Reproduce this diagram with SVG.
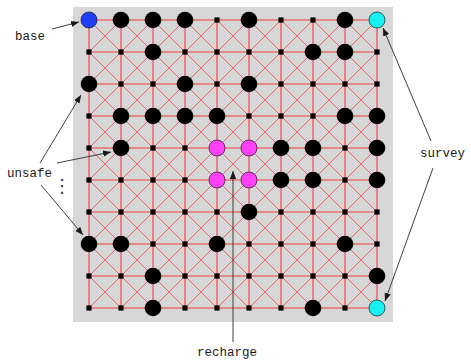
<svg xmlns="http://www.w3.org/2000/svg" xmlns:xlink="http://www.w3.org/1999/xlink" width="471" height="360" viewBox="0 0 471 360">
<style>
.grid{stroke:#f03c3c;stroke-width:1.1;fill:none}
.diag{stroke:#ee4848;stroke-width:0.8;fill:none}
.arr{stroke:#2a2a2a;stroke-width:0.9;fill:none;marker-end:url(#ah)}
.lbl{font-family:"Liberation Mono","Courier New",monospace;font-size:12.5px;fill:#1a1a1a}
.blue{fill:#1f3ff5;stroke:#1a1a40;stroke-width:0.8}
.cyan{fill:#19f0f0;stroke:#1a3a40;stroke-width:0.8}
.mag{fill:#ff40f4;stroke:#401a40;stroke-width:0.8}
</style>
<defs>
<marker id="ah" viewBox="0 0 10 10" refX="10" refY="5" markerWidth="8" markerHeight="8" markerUnits="userSpaceOnUse" orient="auto"><path d="M0,1 L10,5 L0,9 z" fill="#1a1a1a"/></marker>
<rect id="sq" x="-2.6" y="-2.6" width="5.2" height="5.2" fill="#000"/>
<circle id="bg" r="8.3" fill="#000"/>
</defs>
<rect x="73" y="7" width="320" height="315" fill="#d7d7d7"/>
<g id="connectors">
<path class="grid" d="M89,20H377M89,52H377M89,84H377M89,116H377M89,148H377M89,180H377M89,212H377M89,244H377M89,276H377M89,308H377M89,20V308M121,20V308M153,20V308M185,20V308M217,20V308M249,20V308M281,20V308M313,20V308M345,20V308M377,20V308"/>
<path class="diag" d="M89,276L121,308M89,244L153,308M89,212L185,308M89,180L217,308M89,148L249,308M89,116L281,308M89,84L313,308M89,52L345,308M89,20L377,308M121,20L377,276M153,20L377,244M185,20L377,212M217,20L377,180M249,20L377,148M281,20L377,116M313,20L377,84M345,20L377,52"/>
<path class="diag" d="M89,52L121,20M89,84L153,20M89,116L185,20M89,148L217,20M89,180L249,20M89,212L281,20M89,244L313,20M89,276L345,20M89,308L377,20M121,308L377,52M153,308L377,84M185,308L377,116M217,308L377,148M249,308L377,180M281,308L377,212M313,308L377,244M345,308L377,276"/>
</g>
<g id="nodes">
<g id="n0_0"><circle class="blue" cx="89" cy="20" r="8"/></g>
<g id="n0_1"><use href="#bg" x="121" y="20"/></g>
<g id="n0_2"><use href="#bg" x="153" y="20"/></g>
<g id="n0_3"><use href="#bg" x="185" y="20"/></g>
<g id="n0_4"><use href="#sq" x="217" y="20"/></g>
<g id="n0_5"><use href="#bg" x="249" y="20"/></g>
<g id="n0_6"><use href="#sq" x="281" y="20"/></g>
<g id="n0_7"><use href="#sq" x="313" y="20"/></g>
<g id="n0_8"><use href="#bg" x="345" y="20"/></g>
<g id="n0_9"><circle class="cyan" cx="377" cy="20" r="8"/></g>

<g id="n1_0"><use href="#sq" x="89" y="52"/></g>
<g id="n1_1"><use href="#sq" x="121" y="52"/></g>
<g id="n1_2"><use href="#bg" x="153" y="52"/></g>
<g id="n1_3"><use href="#sq" x="185" y="52"/></g>
<g id="n1_4"><use href="#sq" x="217" y="52"/></g>
<g id="n1_5"><use href="#sq" x="249" y="52"/></g>
<g id="n1_6"><use href="#sq" x="281" y="52"/></g>
<g id="n1_7"><use href="#bg" x="313" y="52"/></g>
<g id="n1_8"><use href="#bg" x="345" y="52"/></g>
<g id="n1_9"><use href="#sq" x="377" y="52"/></g>

<g id="n2_0"><use href="#bg" x="89" y="84"/></g>
<g id="n2_1"><use href="#sq" x="121" y="84"/></g>
<g id="n2_2"><use href="#sq" x="153" y="84"/></g>
<g id="n2_3"><use href="#bg" x="185" y="84"/></g>
<g id="n2_4"><use href="#sq" x="217" y="84"/></g>
<g id="n2_5"><use href="#bg" x="249" y="84"/></g>
<g id="n2_6"><use href="#sq" x="281" y="84"/></g>
<g id="n2_7"><use href="#sq" x="313" y="84"/></g>
<g id="n2_8"><use href="#sq" x="345" y="84"/></g>
<g id="n2_9"><use href="#sq" x="377" y="84"/></g>

<g id="n3_0"><use href="#sq" x="89" y="116"/></g>
<g id="n3_1"><use href="#bg" x="121" y="116"/></g>
<g id="n3_2"><use href="#bg" x="153" y="116"/></g>
<g id="n3_3"><use href="#bg" x="185" y="116"/></g>
<g id="n3_4"><use href="#bg" x="217" y="116"/></g>
<g id="n3_5"><use href="#sq" x="249" y="116"/></g>
<g id="n3_6"><use href="#sq" x="281" y="116"/></g>
<g id="n3_7"><use href="#sq" x="313" y="116"/></g>
<g id="n3_8"><use href="#bg" x="345" y="116"/></g>
<g id="n3_9"><use href="#bg" x="377" y="116"/></g>

<g id="n4_0"><use href="#sq" x="89" y="148"/></g>
<g id="n4_1"><use href="#bg" x="121" y="148"/></g>
<g id="n4_2"><use href="#sq" x="153" y="148"/></g>
<g id="n4_3"><use href="#sq" x="185" y="148"/></g>
<g id="n4_4"><circle class="mag" cx="217" cy="148" r="8"/></g>
<g id="n4_5"><circle class="mag" cx="249" cy="148" r="8"/></g>
<g id="n4_6"><use href="#bg" x="281" y="148"/></g>
<g id="n4_7"><use href="#bg" x="313" y="148"/></g>
<g id="n4_8"><use href="#sq" x="345" y="148"/></g>
<g id="n4_9"><use href="#bg" x="377" y="148"/></g>

<g id="n5_0"><use href="#sq" x="89" y="180"/></g>
<g id="n5_1"><use href="#sq" x="121" y="180"/></g>
<g id="n5_2"><use href="#sq" x="153" y="180"/></g>
<g id="n5_3"><use href="#sq" x="185" y="180"/></g>
<g id="n5_4"><circle class="mag" cx="217" cy="180" r="8"/></g>
<g id="n5_5"><circle class="mag" cx="249" cy="180" r="8"/></g>
<g id="n5_6"><use href="#bg" x="281" y="180"/></g>
<g id="n5_7"><use href="#bg" x="313" y="180"/></g>
<g id="n5_8"><use href="#sq" x="345" y="180"/></g>
<g id="n5_9"><use href="#bg" x="377" y="180"/></g>

<g id="n6_0"><use href="#sq" x="89" y="212"/></g>
<g id="n6_1"><use href="#sq" x="121" y="212"/></g>
<g id="n6_2"><use href="#sq" x="153" y="212"/></g>
<g id="n6_3"><use href="#sq" x="185" y="212"/></g>
<g id="n6_4"><use href="#sq" x="217" y="212"/></g>
<g id="n6_5"><use href="#bg" x="249" y="212"/></g>
<g id="n6_6"><use href="#sq" x="281" y="212"/></g>
<g id="n6_7"><use href="#sq" x="313" y="212"/></g>
<g id="n6_8"><use href="#sq" x="345" y="212"/></g>
<g id="n6_9"><use href="#sq" x="377" y="212"/></g>

<g id="n7_0"><use href="#bg" x="89" y="244"/></g>
<g id="n7_1"><use href="#bg" x="121" y="244"/></g>
<g id="n7_2"><use href="#sq" x="153" y="244"/></g>
<g id="n7_3"><use href="#sq" x="185" y="244"/></g>
<g id="n7_4"><use href="#bg" x="217" y="244"/></g>
<g id="n7_5"><use href="#sq" x="249" y="244"/></g>
<g id="n7_6"><use href="#sq" x="281" y="244"/></g>
<g id="n7_7"><use href="#sq" x="313" y="244"/></g>
<g id="n7_8"><use href="#bg" x="345" y="244"/></g>
<g id="n7_9"><use href="#sq" x="377" y="244"/></g>

<g id="n8_0"><use href="#sq" x="89" y="276"/></g>
<g id="n8_1"><use href="#sq" x="121" y="276"/></g>
<g id="n8_2"><use href="#bg" x="153" y="276"/></g>
<g id="n8_3"><use href="#sq" x="185" y="276"/></g>
<g id="n8_4"><use href="#sq" x="217" y="276"/></g>
<g id="n8_5"><use href="#sq" x="249" y="276"/></g>
<g id="n8_6"><use href="#sq" x="281" y="276"/></g>
<g id="n8_7"><use href="#sq" x="313" y="276"/></g>
<g id="n8_8"><use href="#sq" x="345" y="276"/></g>
<g id="n8_9"><use href="#bg" x="377" y="276"/></g>

<g id="n9_0"><use href="#sq" x="89" y="308"/></g>
<g id="n9_1"><use href="#sq" x="121" y="308"/></g>
<g id="n9_2"><use href="#bg" x="153" y="308"/></g>
<g id="n9_3"><use href="#sq" x="185" y="308"/></g>
<g id="n9_4"><use href="#sq" x="217" y="308"/></g>
<g id="n9_5"><use href="#sq" x="249" y="308"/></g>
<g id="n9_6"><use href="#sq" x="281" y="308"/></g>
<g id="n9_7"><use href="#bg" x="313" y="308"/></g>
<g id="n9_8"><use href="#sq" x="345" y="308"/></g>
<g id="n9_9"><circle class="cyan" cx="377" cy="308" r="8"/></g>
</g>
<g id="annotations">
<path class="arr" d="M52,29L79,22"/>
<path class="arr" d="M40,163L81,95"/>
<path class="arr" d="M57,163L111,152"/>
<path class="arr" d="M41,185L83,235"/>
<path class="arr" d="M431,141L383,28"/>
<path class="arr" d="M433,168L385,301"/>
<path class="arr" d="M233,342L233,171"/>
<text class="lbl" x="15" y="40">base</text>
<text class="lbl" x="7" y="177">unsafe</text>
<text x="62" y="192" font-family="DejaVu Sans,sans-serif" font-size="18" fill="#334" text-anchor="middle">⋮</text>
<text class="lbl" x="420" y="157">survey</text>
<text class="lbl" x="197" y="356">recharge</text>
</g>
</svg>
